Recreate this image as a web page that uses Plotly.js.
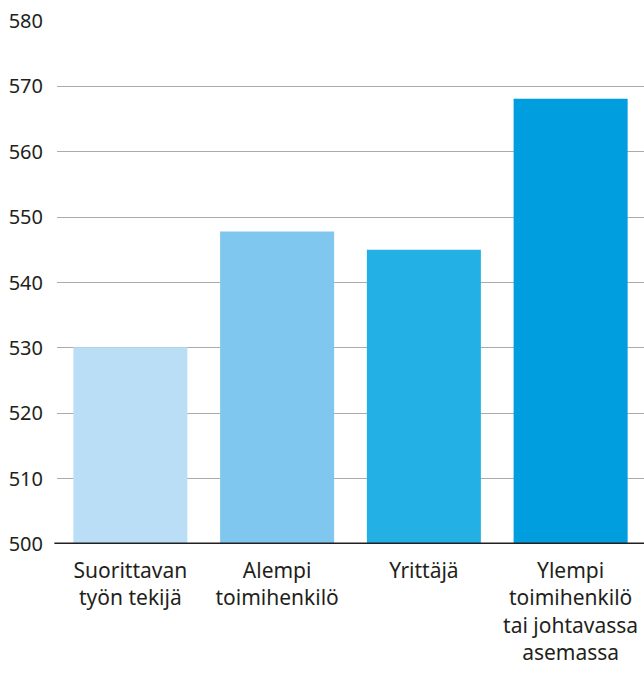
<!DOCTYPE html>
<html>
<head>
<meta charset="utf-8">
<script src="https://cdn.plot.ly/plotly-3.0.1.min.js"></script>
<style>html,body{margin:0;padding:0;background:#fff;}#chart{width:644px;height:673px;}</style>
</head>
<body>
<div id="chart"></div>
<script>
const categories = ["Suorittavan<br>työn tekijä", "Alempi<br>toimihenkilö", "Yrittäjä", "Ylempi<br>toimihenkilö<br>tai johtavassa<br>asemassa"];
const values = [530.1, 547.8, 545.0, 568.1];
const barColors = ["#BADEF5", "#80C7EF", "#22B0E5", "#009DDF"];
const yTicks = [500, 510, 520, 530, 540, 550, 560, 570, 580];

const fontFam = "Noto Sans, Open Sans, sans-serif";
const trace = {
  type: "bar",
  x: categories,
  y: values,
  marker: {color: barColors, line: {width: 0}},
  hoverinfo: "none"
};
const layout = {
  width: 644, height: 673,
  margin: {l: 57, r: 0, t: 21, b: 129, pad: 0},
  paper_bgcolor: "#fff", plot_bgcolor: "#fff",
  showlegend: false,
  bargap: 0.223,
  font: {family: fontFam, size: 20, color: "#231f20"},
  xaxis: {
    type: "category",
    showgrid: false, zeroline: false, showline: false,
    ticks: "", ticklabelstandoff: 12,
    tickfont: {family: fontFam, size: 21, color: "#231f20"},
    fixedrange: true
  },
  yaxis: {
    range: [500, 580],
    tickvals: yTicks,
    ticktext: yTicks.map(String),
    showgrid: true, gridcolor: "#ababab", gridwidth: 1,
    zeroline: false, showline: false, ticks: "",
    ticklabelstandoff: 13,
    tickfont: {family: fontFam, size: 20, color: "#231f20"},
    fixedrange: true
  },
  shapes: [{
    type: "line", xref: "paper", yref: "y",
    x0: -0.0045, x1: 1, y0: 500, y1: 500,
    line: {color: "#231f20", width: 3}
  }]
};
Plotly.newPlot("chart", [trace], layout, {displayModeBar: false, staticPlot: true});
</script>
</body>
</html>
